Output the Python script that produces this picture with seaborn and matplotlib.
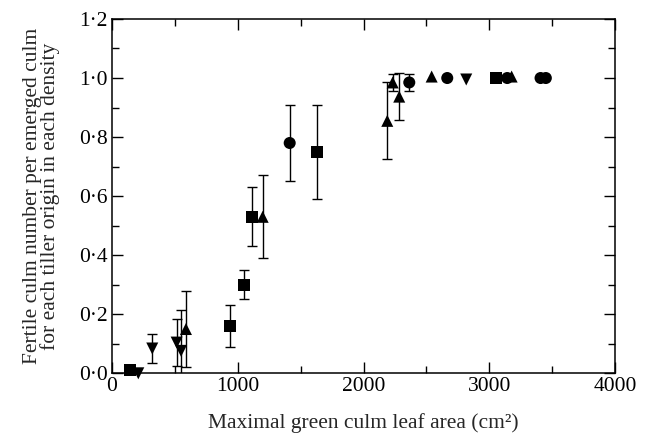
import numpy as np
import pandas as pd
import seaborn as sns
import matplotlib
matplotlib.use("Agg")
import matplotlib.pyplot as plt
from matplotlib.ticker import MultipleLocator, FuncFormatter

# values, one set per marker (density)
circ_x = [1413, 2364, 2666, 3143, 3408, 3450]
circ_y = [0.78, 0.985, 1.0, 1.0, 1.0, 1.0]
circ_e = [0.13, 0.03, 0, 0, 0, 0]

sq_x = [143, 938, 1049, 1115, 1632, 3053]
sq_y = [0.012, 0.16, 0.30, 0.53, 0.75, 1.0]
sq_e = [0.01, 0.07, 0.05, 0.10, 0.16, 0]

up_x = [588, 1198, 2189, 2232, 2284, 2542, 3178]
up_y = [0.15, 0.53, 0.855, 0.985, 0.937, 1.005, 1.005]
up_e = [0.13, 0.14, 0.13, 0.03, 0.08, 0, 0]

dn_x = [209, 320, 514, 549, 2817]
dn_y = [0.0, 0.084, 0.104, 0.076, 0.995]
dn_e = [0, 0.05, 0.08, 0.14, 0]

frames = []
for name, xs, ys, es in [("circle", circ_x, circ_y, circ_e),
                         ("square", sq_x, sq_y, sq_e),
                         ("up", up_x, up_y, up_e),
                         ("down", dn_x, dn_y, dn_e)]:
    frames.append(pd.DataFrame({"area": xs, "ratio": ys, "err": es, "kind": name}))
dat = pd.concat(frames, ignore_index=True)

sns.set_style("ticks")
plt.rcParams['font.family'] = ['Liberation Serif', 'DejaVu Serif']
plt.rcParams['font.size'] = 15.5
plt.rcParams['axes.linewidth'] = 1.1

fig = plt.figure(figsize=(6.49, 4.38), dpi=100)
ax = fig.add_axes([0.1726, 0.1477, 0.775, 0.809])

# error bars first, markers on top
eb = dat[dat["err"] > 0]
ax.errorbar(eb["area"], eb["ratio"], yerr=eb["err"], fmt="none",
            ecolor="black", elinewidth=1.0, capsize=3.5, capthick=1.0, zorder=2)

sns.scatterplot(data=dat, x="area", y="ratio", style="kind",
                markers={"circle": "o", "square": "s", "up": "^", "down": "v"},
                color="black", edgecolor="black", s=75, linewidth=0,
                legend=False, ax=ax, zorder=3, clip_on=False)

ax.set_xlim(0, 4000)
ax.set_ylim(0, 1.2)
ax.xaxis.set_major_locator(MultipleLocator(1000))
ax.xaxis.set_minor_locator(MultipleLocator(500))
ax.yaxis.set_major_locator(MultipleLocator(0.2))
ax.yaxis.set_minor_locator(MultipleLocator(0.1))
ax.yaxis.set_major_formatter(FuncFormatter(lambda v, p: f"{v:.1f}".replace(".", "\u00b7")))
ax.tick_params(which="both", direction="in", top=True, right=True,
               labelsize=15.5, width=1.0, colors="black", pad=3)
ax.tick_params(which="major", length=8)
ax.tick_params(which="minor", length=5)

ax.set_xlabel("Maximal green culm leaf area (cm\u00b2)", fontsize=15.5, labelpad=12)
ax.set_ylabel("Fertile culm number per emerged culm\nfor each tiller origin in each density",
              fontsize=15.5, linespacing=0.85, labelpad=14)

for sp in ax.spines.values():
    sp.set_color("black")

plt.savefig("out.png", dpi=100)
